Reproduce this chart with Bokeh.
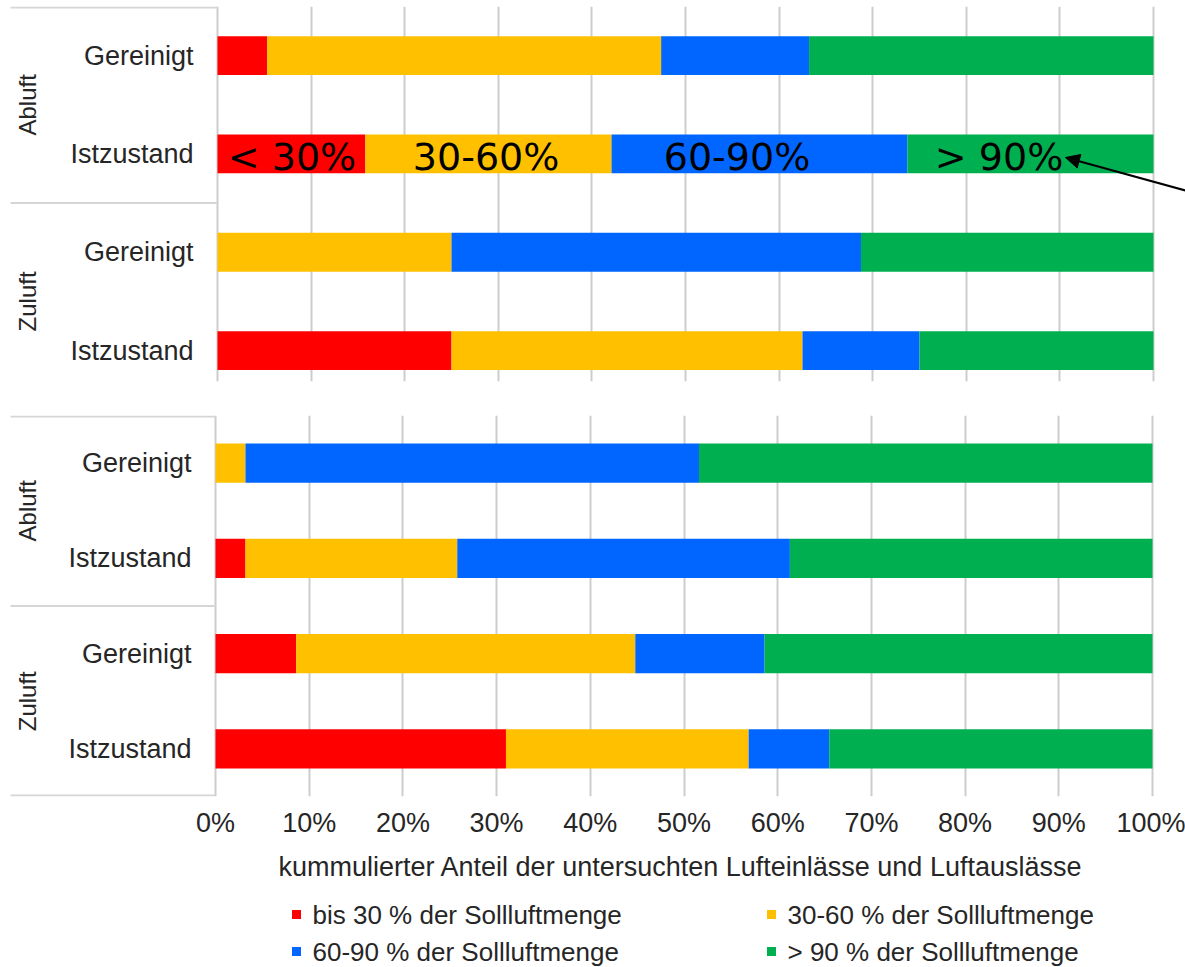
from math import pi

from bokeh.core.properties import value
from bokeh.embed import file_html
from bokeh.layouts import column
from bokeh.models import (Arrow, ColumnDataSource, FixedTicker, Label, NormalHead,
                          Range1d)
from bokeh.plotting import figure
from bokeh.resources import INLINE

# rows, listed top to bottom in each panel
groups = ["Abluft", "Abluft", "Zuluft", "Zuluft"]
states = ["Gereinigt", "Istzustand", "Gereinigt", "Istzustand"]

bands = ["bis30", "b30_60", "b60_90", "ueber90"]
band_colors = ["#FF0000", "#FFC000", "#0066FF", "#00B050"]
legend_labels = [
    "bis 30 % der Sollluftmenge",
    "30-60 %  der Sollluftmenge",
    "60-90 %  der Sollluftmenge",
    "> 90 %  der Sollluftmenge",
]
band_tags = ["< 30%", "30-60%", "60-90%", "> 90%"]

# upper panel: share of outlets per air-flow band, in %
upper_bis30 = [5.3, 15.8, 0.0, 25.0]
upper_30_60 = [42.1, 26.3, 25.0, 37.5]
upper_60_90 = [15.8, 31.6, 43.75, 12.5]
upper_ueber90 = [36.8, 26.3, 31.25, 25.0]

# lower panel: share of outlets per air-flow band, in %
lower_bis30 = [0.0, 3.2, 8.6, 31.0]
lower_30_60 = [3.2, 22.6, 36.2, 25.9]
lower_60_90 = [48.4, 35.5, 13.8, 8.6]
lower_ueber90 = [48.4, 38.7, 41.4, 34.5]

x_ticks = [0, 10, 20, 30, 40, 50, 60, 70, 80, 90, 100]
x_tick_labels = ["0%", "10%", "20%", "30%", "40%", "50%", "60%", "70%", "80%", "90%", "100%"]
x_title = "kummulierter  Anteil der untersuchten Lufteinlässe und Luftauslässe"

TEXT = "#262626"
GRID = "#cdcdcd"
FRAME = "#d6d6d6"
SANS = "Liberation Sans"
FS = "27px"
W = 1185

row_y = [3, 2, 1, 0]


def make_panel(shares, total_h, top, frame_h, zero_px, px_per_pct, y_start,
               bar_h, bounds, with_xaxis):
    """Stacked bars; the frame spans the full width, the value axis starts at zero_px."""
    x0 = -zero_px / px_per_pct
    x1 = (W - zero_px) / px_per_pct
    p = figure(width=W, height=total_h, x_range=Range1d(x0, x1),
               y_range=Range1d(y_start, 3.5), output_backend="svg",
               toolbar_location=None, min_border_left=0, min_border_right=0,
               min_border_top=top, min_border_bottom=total_h - top - frame_h,
               x_axis_location="below" if with_xaxis else None,
               y_axis_location=None)
    p.outline_line_color = None
    p.background_fill_color = "white"
    p.border_fill_color = "white"

    data = dict(y=row_y)
    for b, vals in zip(bands, shares):
        data[b] = vals
    src = ColumnDataSource(data)
    p.hbar_stack(bands, y="y", height=bar_h, color=band_colors, line_color=None,
                 source=src)

    p.xgrid.ticker = FixedTicker(ticks=x_ticks)
    p.xgrid.grid_line_color = GRID
    p.xgrid.grid_line_width = 2
    p.ygrid.visible = False

    # category block on the left: row names, group names, separators
    lab_x = -24 / px_per_pct
    p.text(x=[lab_x] * len(row_y), y=row_y, text=states, text_align="right",
           text_baseline="middle", text_font=value(SANS), text_font_size=FS,
           text_color=TEXT)

    names = list(dict.fromkeys(groups))
    centers = []
    for g in names:
        ys = [y for y, gg in zip(row_y, groups) if gg == g]
        centers.append(sum(ys) / len(ys))
    grp_x = (27 - zero_px) / px_per_pct
    p.text(x=[grp_x] * len(names), y=centers, text=names, angle=pi / 2,
           text_align="center", text_baseline="middle", text_font=value(SANS),
           text_font_size="24px", text_color=TEXT)

    edge_x = (10 - zero_px) / px_per_pct
    p.segment(x0=[edge_x] * len(bounds), y0=bounds, x1=[0] * len(bounds), y1=bounds,
              line_color=FRAME, line_width=2)
    return p


# ---- upper panel
upper = make_panel([upper_bis30, upper_30_60, upper_60_90, upper_ueber90],
                   total_h=400, top=6, frame_h=375, zero_px=217, px_per_pct=9.36,
                   y_start=3.5 - 375 / 98.3, bar_h=0.395,
                   bounds=[1.5, 3.49], with_xaxis=False)

# band captions written over the "Abluft / Istzustand" bar
tag_x = [7.96, 28.7, 55.5, 83.5]
for tx, tag in zip(tag_x, band_tags):
    upper.add_layout(Label(x=tx, y=1.965, text=tag, text_align="center",
                           text_baseline="middle", text_font="DejaVu Sans",
                           text_font_size="38px", text_color="black"))
upper.add_layout(Arrow(end=NormalHead(size=14, fill_color="black", line_color="black"),
                       x_start=104.5, y_start=1.60, x_end=90.6, y_end=1.964,
                       line_color="black", line_width=2))

# ---- lower panel with the percentage axis
lower = make_panel([lower_bis30, lower_30_60, lower_60_90, lower_ueber90],
                   total_h=442, top=15, frame_h=381, zero_px=215, px_per_pct=9.37,
                   y_start=-0.5, bar_h=0.41,
                   bounds=[-0.49, 1.5, 3.49], with_xaxis=True)

xa = lower.xaxis[0]
xa.ticker = FixedTicker(ticks=x_ticks)
xa.major_label_overrides = {t: s for t, s in zip(x_ticks, x_tick_labels)}
xa.axis_line_color = None
xa.major_tick_line_color = None
xa.major_tick_out = 0
xa.major_tick_in = 0
xa.minor_tick_line_color = None
xa.minor_tick_out = 0
xa.major_label_standoff = 11
xa.major_label_text_font = SANS
xa.major_label_text_font_size = FS
xa.major_label_text_color = TEXT

# ---- axis title and colour key below the chart
KEY_H = 125
key = figure(width=W, height=KEY_H, x_range=Range1d(0, W), y_range=Range1d(KEY_H, 0),
             output_backend="svg", toolbar_location=None, min_border=0,
             x_axis_location=None, y_axis_location=None)
key.outline_line_color = None
key.xgrid.visible = False
key.ygrid.visible = False

key.text(x=[684], y=[24], text=[x_title], text_align="center", text_baseline="middle",
         text_font=value(SANS), text_font_size=FS, text_color=TEXT)

key_x = [296, 771, 296, 771]
key_y = [72, 72, 109, 109]
key.rect(x=key_x, y=key_y, width=9, height=9, color=band_colors, line_color=None)
key.text(x=[x + 16 for x in key_x], y=key_y, text=legend_labels, text_align="left",
         text_baseline="middle", text_font=value(SANS), text_font_size="26px",
         text_color=TEXT)

page = column(upper, lower, key)
open("out.html", "w").write(file_html(page, INLINE))
